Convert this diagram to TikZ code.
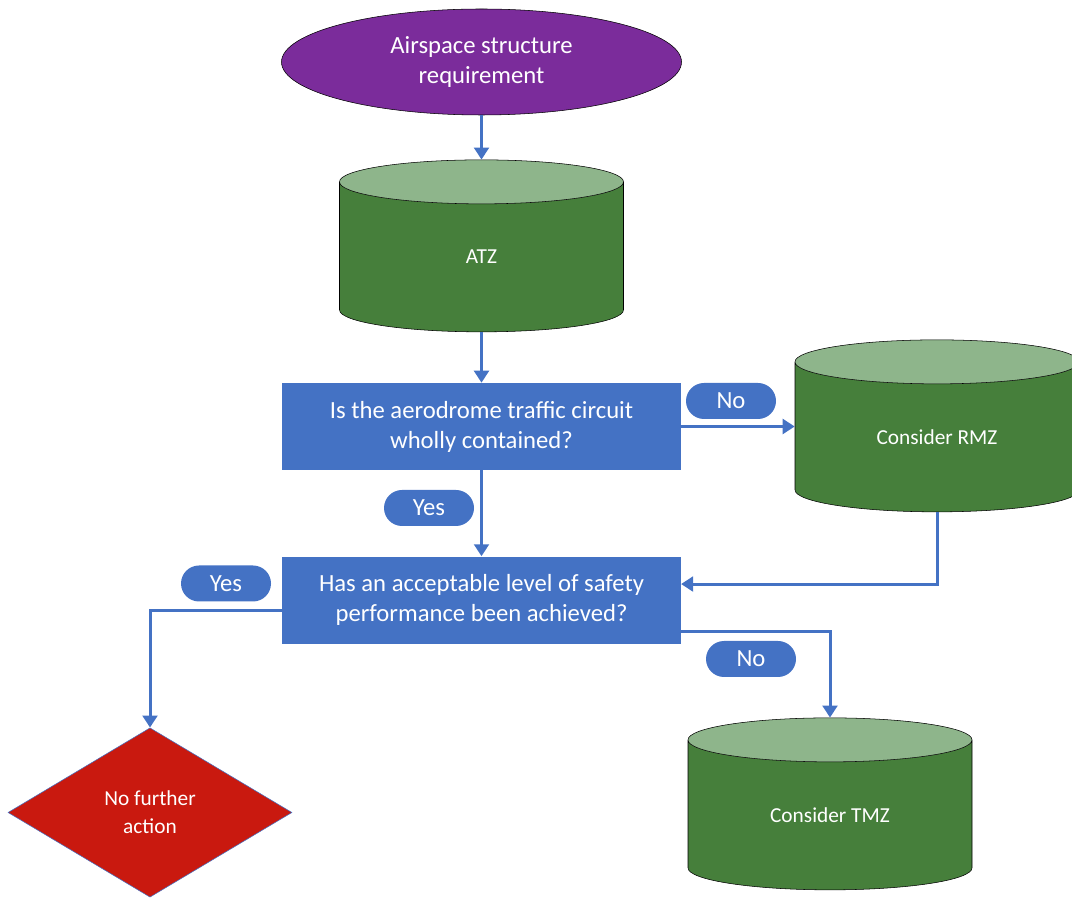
\documentclass[tikz,border=0pt]{standalone}
\usepackage{fontspec}
\setmainfont{Carlito}
\usepackage{tikz}
\usetikzlibrary{arrows.meta, calc, positioning, shapes.geometric}
\usepackage{xcolor}
\definecolor{FlowBlue}{HTML}{4472C4}
\definecolor{StartPurple}{HTML}{7B2C9B}
\definecolor{ZoneGreen}{HTML}{467F3B}
\definecolor{ZoneTop}{HTML}{8EB58B}
\definecolor{StopRed}{HTML}{C9190F}
\tikzset{%
  flow_start/.style={%
    ellipse,%
    draw=black,%
    fill=StartPurple,%
    text=white,%
    minimum width=300pt,%
    minimum height=79.5pt,%
    inner sep=0pt,%
    font={\fontsize{18.5}{22.5}\selectfont},%
    align=center%
  },
  flow_zone/.style={%
    cylinder,%
    shape border rotate=90,%
    aspect=0.22,%
    draw=black,%
    cylinder uses custom fill,%
    cylinder body fill=ZoneGreen,%
    cylinder end fill=ZoneTop,%
    text=white,%
    text width=150pt,%
    minimum width=213pt,%
    minimum height=129pt,%
    inner sep=0pt,%
    font={\fontsize{16}{21}\selectfont},%
    align=flush center%
  },
  flow_question/.style={%
    rectangle,%
    fill=FlowBlue,%
    text=white,%
    minimum width=299pt,%
    minimum height=65.25pt,%
    inner sep=0pt,%
    font={\fontsize{18.5}{22.5}\selectfont},%
    align=center%
  },
  flow_stop/.style={%
    diamond,%
    draw=FlowBlue,%
    fill=StopRed,%
    text=white,%
    minimum width=213pt,%
    minimum height=127pt,%
    inner sep=0pt,%
    font={\fontsize{16}{21}\selectfont},%
    align=center%
  },
  flow_tag/.style={%
    rectangle,%
    rounded corners=13.5pt,%
    fill=FlowBlue,%
    text=white,%
    minimum width=67.5pt,%
    minimum height=27pt,%
    inner sep=0pt,%
    font={\fontsize{18.5}{22.5}\selectfont}%
  },
  flow_path/.style={%
    color=FlowBlue,%
    line width=2.25pt,%
    line join=miter%
  },
  arrow/.style={-{Triangle[width=11pt, length=9pt]}},
}

\begin{document}
\begin{tikzpicture}[x=0.75pt, y=0.75pt]
    \useasboundingbox (0, 0) rectangle (1072, 897);

    \node [flow_start] (Start) at (481.5, 835) {Airspace structure\\requirement};
    \node [flow_zone] (ATZ) at (481.5, 640) {ATZ};
    \node [flow_question] (Contained) at (481.5, 470.5)
      {Is the aerodrome traffic circuit\\wholly contained?};
    \node [flow_question, below = 64.5pt of Contained] (Safety)
      {Has an acceptable level of safety\\performance been achieved?};
    \node [flow_zone] (RMZ) at (937, 460) {Consider RMZ};
    \node [flow_zone] (TMZ) at (830, 82) {Consider TMZ};
    \node [flow_stop] (Stop) at (150, 84.5) {No further\\action};

    \node [flow_tag] (NoRMZ) at (731, 496) {No};
    \node [flow_tag] (YesContained) at (429, 389) {Yes};
    \node [flow_tag] (YesSafety) at (226, 313.5) {Yes};
    \node [flow_tag] (NoTMZ) at (751, 238) {No};

    \draw [arrow, flow_path]
      (Start.south)
      --
      (ATZ.north);
    \draw [arrow, flow_path]
      (ATZ.south)
      --
      (Contained.north);
    \draw [arrow, flow_path]
      (Contained.east)
      --
      (Contained.east -| RMZ.west);
    \draw [arrow, flow_path]
      (Contained.south)
      --
      (Safety.north);
    \draw [arrow, flow_path]
      (RMZ.south)
      |-
      ([yshift=12pt]Safety.east);
    \draw [arrow, flow_path]
      ([yshift=-8pt]Safety.west)
      -|
      (Stop.north);
    \draw [arrow, flow_path]
      ([yshift=-23.5pt]Safety.east)
      -|
      (TMZ.north);
  \end{tikzpicture}
\end{document}
